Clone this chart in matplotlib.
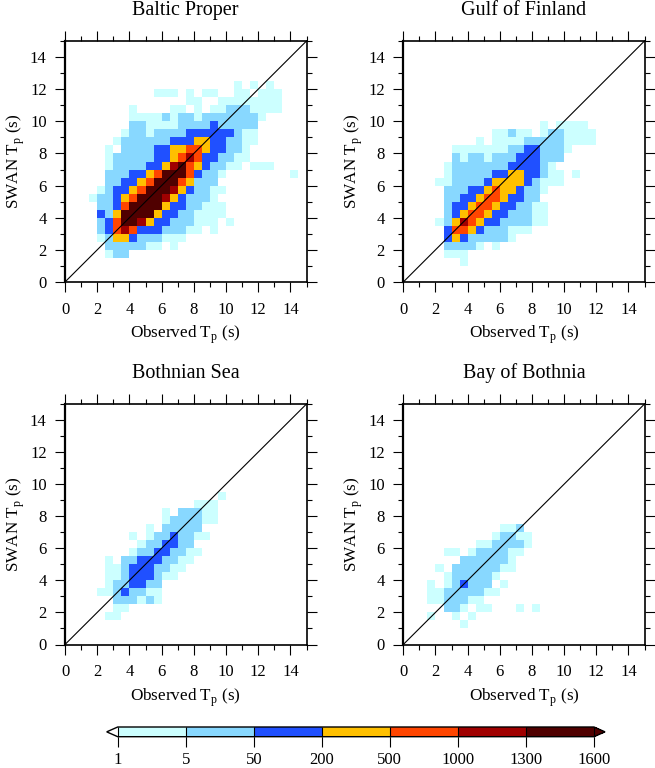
#!/usr/bin/python3
# -*- coding: utf-8 -*-
import numpy as np
import matplotlib
matplotlib.use('Agg')
import matplotlib.pyplot as plt
from matplotlib.colors import ListedColormap, BoundaryNorm

plt.rcParams['font.family'] = 'Liberation Serif'
plt.rcParams['mathtext.fontset'] = 'custom'
plt.rcParams['mathtext.rm'] = 'Liberation Serif'

levels = [1, 5, 50, 200, 500, 1000, 1300, 1600]
colours = ['#ccffff', '#88d8ff', '#2050ff', '#ffc000', '#ff4500', '#a00000', '#500000']
# a typical count for each colour class, 0 = empty bin
class_counts = [0, 3, 25, 120, 350, 750, 1150, 1450]

# one entry per 0.5 s row of SWAN Tp: (row, first column, colour classes)
baltic = [
    (3, 5, '122'),
    (4, 5, '222221101'),
    (5, 4, '12443222111'),
    (6, 4, '235653332221101'),
    (7, 4, '23577643322211101'),
    (8, 4, '3247777433221111'),
    (9, 4, '2235777743322111'),
    (10, 3, '1223457776432221'),
    (11, 4, '1233457776432211'),
    (12, 5, '22334577754222'),
    (13, 5, '222334577753221'),
    (13, 28, '1'),
    (14, 5, '12222334675432211'),
    (14, 23, '111'),
    (15, 5, '122222334565332211'),
    (16, 5, '102222334455433221'),
    (17, 6, '122222233344332211'),
    (18, 7, '12212222333333211'),
    (19, 8, '2211112222322222'),
    (20, 8, '11112122122222221'),
    (21, 8, '1'),
    (21, 13, '11'),
    (21, 16, '1'),
    (21, 18, '11'),
    (21, 20, '2221111'),
    (22, 15, '11'),
    (22, 19, '11111111'),
    (23, 11, '111'),
    (23, 15, '1'),
    (23, 17, '11'),
    (23, 21, '11'),
    (23, 24, '111'),
    (24, 21, '1'),
    (24, 23, '1'),
    (24, 25, '1'),
]

finland = [
    (2, 7, '1'),
    (3, 5, '111'),
    (4, 5, '2222101'),
    (5, 5, '343222221'),
    (6, 5, '35543222111'),
    (7, 4, '12465433222211'),
    (8, 5, '2345543322211'),
    (9, 5, '2334554332211'),
    (10, 5, '223345543322'),
    (11, 5, '2223345443221'),
    (12, 4, '1122223444432111'),
    (13, 5, '122222334433211'),
    (13, 21, '1'),
    (14, 5, '12222222333321'),
    (15, 6, '21221222333222'),
    (16, 6, '111111122332221'),
    (17, 9, '1'),
    (17, 11, '1111'),
    (17, 15, '222221111'),
    (18, 11, '11211'),
    (18, 17, '1221111'),
    (19, 17, '1'),
    (19, 19, '1111'),
]

bothnian_sea = [
    (3, 5, '11'),
    (4, 6, '11'),
    (5, 6, '222121'),
    (6, 4, '11232211'),
    (7, 5, '1223322'),
    (8, 5, '112333211'),
    (9, 5, '1123332211'),
    (10, 5, '1'),
    (10, 7, '223332211'),
    (11, 8, '122332211'),
    (12, 9, '1223322'),
    (13, 8, '1'),
    (13, 10, '12232211'),
    (14, 10, '1'),
    (14, 12, '22222'),
    (15, 12, '1222211'),
    (16, 12, '1'),
    (16, 14, '22211'),
    (17, 16, '111'),
    (18, 19, '1'),
]

bothnia_bay = [
    (2, 7, '1'),
    (3, 3, '1'),
    (3, 6, '1'),
    (3, 8, '1'),
    (4, 5, '221'),
    (4, 9, '11'),
    (4, 14, '1'),
    (4, 16, '1'),
    (5, 3, '1122211'),
    (6, 3, '112222211'),
    (7, 3, '1'),
    (7, 5, '123222'),
    (7, 12, '1'),
    (8, 5, '1222221'),
    (9, 4, '1'),
    (9, 6, '22222211'),
    (10, 7, '2222221'),
    (11, 5, '11'),
    (11, 8, '1222211'),
    (12, 9, '1122221'),
    (13, 11, '12211'),
    (14, 12, '112'),
]

titles = ['Baltic Proper', 'Gulf of Finland', 'Bothnian Sea', 'Bay of Bothnia']
panels = [baltic, finland, bothnian_sea, bothnia_bay]
edges = np.arange(0, 15.5, 0.5)
W, H = 655, 768


def to_grid(rows):
    grid = np.zeros((30, 30))
    for row, first, classes in rows:
        for k, c in enumerate(classes):
            grid[row, first + k] = class_counts[int(c)]
    return grid


def px_axes(left, top, right, bottom):
    return fig.add_axes([left / W, 1 - bottom / H, (right - left) / W, (bottom - top) / H])


cmap = ListedColormap(colours)
cmap.set_under('white')
cmap.set_over(colours[-1])
norm = BoundaryNorm(levels, 7)

fig = plt.figure(figsize=(6.55, 7.68), dpi=100)
boxes = [(65, 41, 306.5, 282), (403.3, 41, 644.5, 282),
         (65, 404, 306.5, 644.5), (403.3, 404, 644.5, 644.5)]

for box, title, rows in zip(boxes, titles, panels):
    ax = px_axes(*box)
    ax.pcolormesh(edges, edges, to_grid(rows), cmap=cmap, norm=norm, rasterized=True)
    ax.plot([0, 15], [0, 15], color='k', lw=0.8)
    ax.set_xlim(0, 15)
    ax.set_ylim(0, 15)
    ax.set_xticks(np.arange(0, 15, 2))
    ax.set_yticks(np.arange(0, 15, 2))
    ax.set_xticks(np.arange(1, 16, 2), minor=True)
    ax.set_yticks(np.arange(1, 16, 2), minor=True)
    ax.tick_params(which='major', direction='out', length=7.2, width=0.8, top=True, right=True,
                   labelsize=12)
    ax.tick_params(which='minor', direction='out', length=3.6, width=0.8, top=True, right=True)
    ax.tick_params(axis='x', which='major', pad=7)
    ax.tick_params(axis='y', which='major', pad=6)
    for s in ax.spines.values():
        s.set_linewidth(1.2)
    ax.spines['left'].set_linewidth(1.6)
    ax.set_xlabel(r'Observed T$_{\mathrm{p}}$ (s)', fontsize=12.3, labelpad=4.5)
    ax.set_ylabel(r'SWAN T$_{\mathrm{p}}$ (s)', fontsize=12.3, labelpad=2)
    ax.set_title(title, fontsize=14.5, pad=19)

cax = px_axes(106.7, 727, 605, 736.7)
sm = plt.cm.ScalarMappable(norm=norm, cmap=cmap)
cb = fig.colorbar(sm, cax=cax, orientation='horizontal', extend='both', extendfrac=11 / 476,
                  spacing='uniform', drawedges=True, ticks=levels)
cb.ax.tick_params(which='major', direction='out', length=7.2, width=0.8, labelsize=12, pad=4)
cb.ax.minorticks_off()
cb.outline.set_linewidth(1.0)
cb.dividers.set_linewidth(0.8)
cb.set_ticklabels([str(v) for v in levels])

fig.savefig('out.png', dpi=100)
